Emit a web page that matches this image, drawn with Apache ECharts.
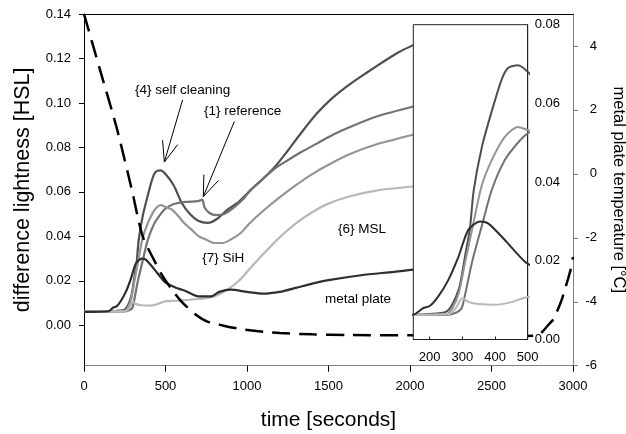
<!DOCTYPE html>
<html>
<head>
<meta charset="utf-8">
<script src="https://cdn.jsdelivr.net/npm/echarts@6/dist/echarts.min.js"></script>
<style>html,body{margin:0;padding:0;background:#fff;}#main{width:626px;height:434px;}</style>
</head>
<body>
<div id="main"></div>
<script>
// ---- data (time in seconds, lightness difference in HSL, temperature in °C) ----
const xTicks = [0, 500, 1000, 1500, 2000, 2500, 3000];
const leftTicks = [0, 0.02, 0.04, 0.06, 0.08, 0.10, 0.12, 0.14];
const rightTicks = [-6, -4, -2, 0, 2, 4];
const insetXTicks = [200, 300, 400, 500];
const insetYTicks = [0, 0.02, 0.04, 0.06, 0.08];

// {4} self cleaning
const tA = [0, 100, 200, 250, 270, 290, 300, 310, 323, 335, 360, 390, 420, 440, 470, 500, 550, 600, 650, 700, 760, 820, 880, 950, 1025, 1100, 1180, 1250, 1325, 1428, 1528, 1632, 1736, 1836, 1930, 2020];
const vA = [0.0062, 0.0062, 0.0065, 0.0070, 0.0090, 0.0130, 0.0170, 0.0220, 0.0280, 0.0380, 0.0490, 0.0580, 0.0660, 0.0690, 0.0697, 0.0680, 0.0630, 0.0550, 0.0500, 0.0470, 0.0460, 0.0480, 0.0520, 0.0555, 0.0610, 0.0660, 0.0720, 0.0785, 0.0858, 0.0952, 0.1025, 0.1085, 0.1137, 0.1185, 0.1228, 0.1260];
// {1} reference
const tB = [0, 250, 280, 298, 310, 329, 360, 390, 430, 470, 500, 550, 620, 700, 725, 740, 770, 810, 860, 920, 980, 1025, 1100, 1180, 1250, 1330, 1428, 1530, 1632, 1800, 2020];
const vB = [0.0062, 0.0062, 0.0068, 0.0080, 0.0120, 0.0194, 0.0290, 0.0380, 0.0456, 0.0500, 0.0524, 0.0545, 0.0555, 0.0558, 0.0565, 0.0530, 0.0505, 0.0495, 0.0500, 0.0530, 0.0570, 0.0610, 0.0660, 0.0710, 0.0742, 0.0778, 0.0817, 0.0858, 0.0892, 0.0940, 0.0984];
// {7} SiH
const tC = [0, 250, 270, 290, 308, 330, 359, 390, 430, 470, 500, 540, 580, 614, 660, 705, 750, 800, 850, 900, 961, 1018, 1100, 1200, 1300, 1400, 1500, 1632, 1800, 2020];
const vC = [0.0062, 0.0063, 0.0080, 0.0120, 0.0194, 0.0280, 0.0390, 0.0456, 0.0515, 0.0540, 0.0532, 0.0520, 0.0490, 0.0460, 0.0430, 0.0400, 0.0385, 0.0370, 0.0370, 0.0385, 0.0415, 0.0460, 0.0515, 0.0575, 0.0630, 0.0680, 0.0722, 0.0770, 0.0815, 0.0857];
// {6} MSL
const tD = [0, 260, 280, 300, 320, 350, 400, 450, 500, 600, 700, 800, 880, 950, 1018, 1100, 1200, 1300, 1400, 1500, 1632, 1800, 2020];
const vD = [0.0062, 0.0065, 0.0080, 0.0105, 0.0095, 0.0090, 0.0088, 0.0095, 0.0108, 0.0112, 0.0118, 0.0130, 0.0160, 0.0200, 0.0255, 0.0320, 0.0395, 0.0458, 0.0508, 0.0547, 0.0580, 0.0607, 0.0624];
// metal plate
const tE = [0, 150, 180, 200, 226, 257, 288, 318, 354, 379, 430, 497, 560, 620, 700, 780, 830, 900, 1000, 1100, 1200, 1300, 1400, 1500, 1700, 1900, 2020];
const vE = [0.0060, 0.0063, 0.0080, 0.0085, 0.0109, 0.0151, 0.0210, 0.0278, 0.0300, 0.0295, 0.0253, 0.0194, 0.0170, 0.0155, 0.0130, 0.0130, 0.0150, 0.0160, 0.0150, 0.0142, 0.0150, 0.0168, 0.0187, 0.0203, 0.0225, 0.0240, 0.0250];
// metal plate temperature (right axis)
const tT = [0, 50, 100, 200, 300, 330, 364, 420, 479, 540, 601, 680, 761, 850, 957, 1100, 1202, 1400, 1632, 2000, 2400, 2700, 2780, 2810, 2850, 2880, 2900, 2930, 2951, 2970, 2985, 3000];
const vT = [5.0, 4.11, 3.22, 1.45, -0.64, -1.36, -2.01, -2.6, -3.17, -3.63, -4.01, -4.38, -4.63, -4.74, -4.85, -4.94, -4.98, -5.02, -5.04, -5.05, -5.06, -5.07, -5.06, -4.95, -4.72, -4.55, -4.33, -3.95, -3.6, -3.28, -3.0, -2.6];

// annotations (data coordinates)
const labelTexts = ['{4} self cleaning', '{1} reference', '{7} SiH', '{6} MSL', 'metal plate'];
const labelT = [313, 736, 726, 1558, 1479];
const labelV = [0.1059, 0.0964, 0.0302, 0.0430, 0.0115];
const arrowFromT = [605, 922];
const arrowFromV = [0.1014, 0.0916];
const arrowToT = [493, 732];
const arrowToV = [0.0734, 0.0579];

const FONT = '"Liberation Sans", Arial, Helvetica, sans-serif';
const zip = (t, v) => t.map((x, i) => [x, v[i]]);

const hslSeries = [
  {name: '{4} self cleaning', t: tA, v: vA, color: '#4f4f4f'},
  {name: '{1} reference', t: tB, v: vB, color: '#727272'},
  {name: '{7} SiH', t: tC, v: vC, color: '#949494'},
  {name: '{6} MSL', t: tD, v: vD, color: '#b8b8b8'},
  {name: 'metal plate', t: tE, v: vE, color: '#2e2e2e'}
];

const series = [];
hslSeries.forEach(s => {
  series.push({
    type: 'line', name: s.name, xAxisIndex: 0, yAxisIndex: 0,
    data: zip(s.t, s.v), showSymbol: false, smooth: 0.25, z: 2,
    lineStyle: {color: s.color, width: 2.2}
  });
});
series.push({
  type: 'line', name: 'temperature', xAxisIndex: 0, yAxisIndex: 1,
  data: zip(tT, vT), showSymbol: false, smooth: 0.25, z: 3,
  lineStyle: {color: '#000', width: 2.5, type: [18, 9]}
});
hslSeries.forEach(s => {
  series.push({
    type: 'line', name: s.name + ' inset', xAxisIndex: 2, yAxisIndex: 2,
    data: zip(s.t, s.v), showSymbol: false, smooth: 0.25, z: 12, clip: true,
    lineStyle: {color: s.color, width: 2}
  });
});

const labelStyle = {color: '#000', fontSize: 13, fontFamily: FONT};
const plain = v => String(v);

const option = {
  animation: false,
  backgroundColor: '#fff',
  grid: [
    {left: 84, top: 14, width: 489, height: 351.7, outerBoundsMode: 'none', containLabel: false},
    {left: 413.3, top: 24.7, width: 114.4, height: 314.8, show: true, outerBoundsMode: 'none', containLabel: false,
     backgroundColor: '#fff', borderColor: '#222', borderWidth: 1, z: 10}
  ],
  xAxis: [
    {type: 'value', gridIndex: 0, min: 0, max: 3000, interval: 500,
     name: 'time [seconds]', nameLocation: 'middle', nameGap: 44,
     nameTextStyle: {fontSize: 21, fontFamily: FONT, color: '#000'},
     axisLine: {show: true, onZero: false, lineStyle: {color: '#808080', width: 1}},
     axisTick: {show: true, length: 6, lineStyle: {color: '#000'}, customValues: xTicks},
     axisLabel: Object.assign({margin: 14, customValues: xTicks, formatter: plain}, labelStyle),
     splitLine: {show: false}},
    {type: 'value', gridIndex: 0, position: 'top', min: 0, max: 3000,
     axisLine: {show: true, onZero: false, lineStyle: {color: '#000', width: 1}},
     axisTick: {show: false}, axisLabel: {show: false}, splitLine: {show: false}},
    {type: 'value', gridIndex: 1, min: 150, max: 500, z: 11,
     axisLine: {show: true, onZero: false, lineStyle: {color: '#222'}},
     axisTick: {show: true, inside: true, length: 3, lineStyle: {color: '#222'}, customValues: insetXTicks},
     axisLabel: Object.assign({margin: 11, customValues: insetXTicks, formatter: plain}, labelStyle),
     splitLine: {show: false}}
  ],
  yAxis: [
    {type: 'value', gridIndex: 0, min: -0.0182, max: 0.14,
     name: 'difference lightness [HSL]', nameLocation: 'middle', nameGap: 50, nameRotate: 90,
     nameTextStyle: {fontSize: 21.5, fontFamily: FONT, color: '#000'},
     axisLine: {show: true, onZero: false, lineStyle: {color: '#000', width: 1}},
     axisTick: {show: true, length: 5, lineStyle: {color: '#000'}, customValues: leftTicks},
     axisLabel: Object.assign({margin: 13, customValues: leftTicks, formatter: v => v.toFixed(2)}, labelStyle),
     splitLine: {show: false}},
    {type: 'value', gridIndex: 0, position: 'right', min: -6, max: 5,
     name: 'metal plate temperature [°C]', nameLocation: 'middle', nameGap: 37, nameRotate: -90,
     nameTextStyle: {fontSize: 16.5, fontFamily: FONT, color: '#000'},
     axisLine: {show: true, onZero: false, lineStyle: {color: '#808080', width: 1}},
     axisTick: {show: true, length: 5, lineStyle: {color: '#808080'}, customValues: rightTicks},
     axisLabel: Object.assign({margin: 24, align: 'right', customValues: rightTicks, formatter: plain}, labelStyle),
     splitLine: {show: false}},
    {type: 'value', gridIndex: 1, position: 'right', min: 0, max: 0.08, z: 11,
     axisLine: {show: true, onZero: false, lineStyle: {color: '#222'}},
     axisTick: {show: false, customValues: insetYTicks},
     axisLabel: Object.assign({margin: 7, customValues: insetYTicks, formatter: v => v.toFixed(2)}, labelStyle),
     splitLine: {show: false}}
  ],
  series: series
};

const chart = echarts.init(document.getElementById('main'), null, {renderer: 'canvas'});
chart.setOption(option);

const px = (t, v) => chart.convertToPixel({xAxisIndex: 0, yAxisIndex: 0}, [t, v]);
const graphics = [];
labelTexts.forEach((txt, i) => {
  const p = px(labelT[i], labelV[i]);
  graphics.push({type: 'text', x: p[0], y: p[1], z: 100,
    style: {text: txt, fill: '#000', font: '13.5px ' + FONT, align: 'left', verticalAlign: 'middle'}});
});
arrowFromT.forEach((_, i) => {
  const a = px(arrowFromT[i], arrowFromV[i]);
  const b = px(arrowToT[i], arrowToV[i]);
  graphics.push({type: 'line', z: 100, shape: {x1: a[0], y1: a[1], x2: b[0], y2: b[1]},
    style: {stroke: '#000', lineWidth: 1}});
  const ang = Math.atan2(a[1] - b[1], a[0] - b[0]);
  const L = 22, spread = 21 * Math.PI / 180;
  const p1 = [b[0] + L * Math.cos(ang - spread), b[1] + L * Math.sin(ang - spread)];
  const p2 = [b[0] + L * Math.cos(ang + spread), b[1] + L * Math.sin(ang + spread)];
  graphics.push({type: 'polyline', z: 100, shape: {points: [p1, b, p2]},
    style: {stroke: '#000', lineWidth: 1, fill: null}});
});
chart.setOption({graphic: graphics});
</script>
</body>
</html>
